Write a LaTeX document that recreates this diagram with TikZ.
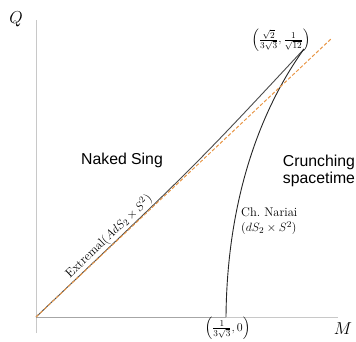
\documentclass[tikz,border=0pt]{standalone}
\usepackage{amsmath,amssymb}
\usepackage{fontspec}
\newfontfamily\sansf{Liberation Sans}
\usetikzlibrary{positioning,calc}
\definecolor{axisgray}{RGB}{200,200,200}
\definecolor{curvegray}{RGB}{75,75,75}
\definecolor{dashorange}{RGB}{232,150,70}

\begin{document}
\begin{tikzpicture}[
  x=1pt, y=-1pt,
  axis/.style={draw=axisgray, line width=0.7pt},
  bnd/.style={draw=curvegray, line width=0.9pt},
  nar/.style={draw=black!85, line width=0.9pt},
  tangent/.style={draw=dashorange, line width=1pt, dash pattern=on 3.5pt off 2pt},
  region/.style={font=\sansf\fontsize{15.8}{17}\selectfont, align=center, inner sep=0pt},
  lbl/.style={font=\fontsize{12.5}{15}\selectfont, inner sep=1pt},
  axlbl/.style={font=\fontsize{18}{20}\selectfont, inner sep=0pt}
]
\useasboundingbox (0,0) rectangle (356,342);
% points of the diagram
\coordinate (O)    at (36,317);
\coordinate (Qtop) at (36,20);
\coordinate (Qbot) at (36,333);
\coordinate (Mend) at (338,317);
\coordinate (foot) at (226,317);
\coordinate (tip)  at (304,49);
\coordinate (dend) at (332,38);
% axes
\draw[axis] (Qbot) -- (Qtop);
\draw[axis] (O) -- (Mend);
\draw[bnd, draw=gray!70] (O) -- (foot);
\node[axlbl] (Q) at (16,19) {$Q$};
\node[axlbl] (M) at (343,329) {$M$};
% extremal and Nariai branches
\draw[bnd] (O) .. controls (195,166) .. (tip)
  node[lbl, pos=0.2, sloped, above] (ext) {Extremal($AdS_2\times S^2$)};
\draw[nar] (foot) .. controls (227,200) and (260,110) .. (tip);
\draw[tangent] (O) -- (dend);
% labels
\node[lbl] (top) at (281,40)
  {$\left(\frac{\sqrt{2}}{3\sqrt{3}},\frac{1}{\sqrt{12}}\right)$};
\node[lbl] (bot) at (227.5,328) {$\left(\frac{1}{3\sqrt{3}},0\right)$};
\node[region] (naked) at (122,160) {Naked Sing};
\node[region] (crunch) at (319,171) {Crunching\\spacetime};
\node[lbl, anchor=west, align=left] (nariai) at (240,221)
  {Ch.\ Nariai\\$(dS_2\times S^2)$};
\end{tikzpicture}
\end{document}
